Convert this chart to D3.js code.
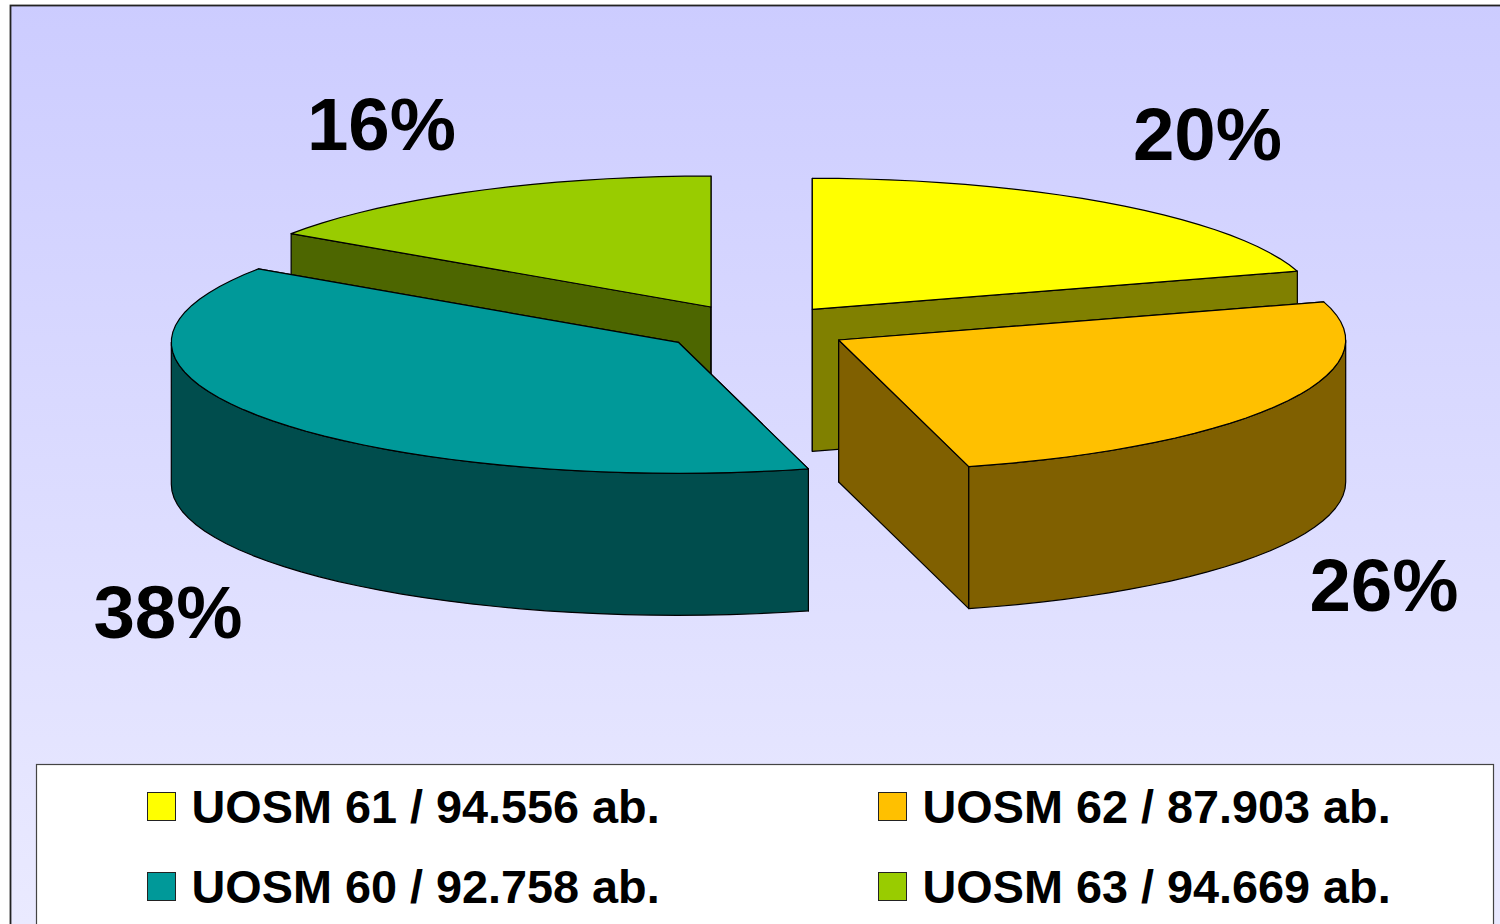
<!DOCTYPE html>
<html>
<head>
<meta charset="utf-8">
<script src="https://cdn.jsdelivr.net/npm/d3@7"></script>
<style>
	html, body { margin: 0; padding: 0; background: #fff; overflow: hidden; }
	svg { display: block; }
	text { font-family: "Liberation Sans", Arial, sans-serif; font-weight: bold; fill: #000; }
</style>
</head>
<body>
<svg></svg>
<script>
const names = ['UOSM 61', 'UOSM 62', 'UOSM 60', 'UOSM 63'];
const inhabitants = ['94.556', '87.903', '92.758', '94.669'];
const sliceShares = [20.3, 25.57, 38.6, 15.53];
const percentLabels = ['20%', '26%', '38%', '16%'];
const topColors = ['#ffff00', '#ffc000', '#009999', '#99cc00'];
const wallColors = ['#808000', '#806000', '#004d4d', '#4d6600'];

const width = 1500,
	height = 924,
	radiusX = 507,
	radiusY = 131,
	depth = 142,
	arcStep = Math.PI / 60;

// apex of each exploded slice, and where its percent label sits
const apex = [[812.3, 309.3], [838.7, 340], [678.3, 342.3], [711, 307]];
const labelPos = [[1207.5, 160], [1384, 611], [168, 638], [381.5, 149.5]];

const svg = d3.select('svg')
	.attr('width', width)
	.attr('height', height);

const defs = svg.append('defs');
const gradient = defs.append('linearGradient')
	.attr('id', 'bg')
	.attr('gradientUnits', 'userSpaceOnUse')
	.attr('x1', 0).attr('y1', 0)
	.attr('x2', 0).attr('y2', height);
gradient.append('stop').attr('offset', 0).attr('stop-color', '#ccccff');
gradient.append('stop').attr('offset', 1).attr('stop-color', '#eaeaff');

// chart frame runs off the right and bottom of the picture
svg.append('rect')
	.attr('x', 10.5)
	.attr('y', 5.5)
	.attr('width', width)
	.attr('height', height)
	.attr('fill', 'url(#bg)')
	.attr('stroke', '#222')
	.attr('stroke-width', 1.8);

const slices = d3.pie()
	.sort(null)
	.value(d => d)(sliceShares);

const xScale = d3.scaleLinear().domain([-1, 1]).range([-radiusX, radiusX]);
const yScale = d3.scaleLinear().domain([-1, 1]).range([radiusY, -radiusY]);

const rimPoint = a => [xScale(Math.sin(a)), yScale(Math.cos(a))];

const rimPoints = (a0, a1) => {
	const n = Math.max(1, Math.ceil((a1 - a0) / arcStep));
	return d3.range(n + 1).map(i => rimPoint(a0 + (a1 - a0) * i / n));
};

const line = d3.line();
const closed = pts => line(pts) + 'Z';
const drop = pts => pts.map(p => [p[0], p[1] + depth]);
const extrude = pts => closed(pts.concat(drop(pts).reverse()));

const pieG = svg.append('g');

const drawSlice = i => {
	const s = slices[i];
	const g = pieG.append('g')
		.attr('transform', `translate(${apex[i][0]}, ${apex[i][1]})`);

	const face = (d, fill) => g.append('path')
		.attr('d', d)
		.attr('fill', fill)
		.attr('stroke', '#000')
		.attr('stroke-width', 1.2)
		.attr('stroke-linejoin', 'round');

	// cut faces, drawn for every slice; later slices hide what should not show
	const center = [0, 0];
	face(extrude([center, rimPoint(s.startAngle)]), wallColors[i]);
	face(extrude([center, rimPoint(s.endAngle)]), wallColors[i]);

	// outer rim, only the part on the near side of the ellipse
	const r0 = Math.max(s.startAngle, Math.PI / 2),
		r1 = Math.min(s.endAngle, Math.PI * 1.5);
	if (r1 > r0) face(extrude(rimPoints(r0, r1)), wallColors[i]);

	face(closed([center].concat(rimPoints(s.startAngle, s.endAngle))), topColors[i]);
};

// back slices first so the front ones cover their walls
[3, 0, 2, 1].forEach(drawSlice);

svg.append('g')
	.selectAll('text')
	.data(percentLabels)
	.enter().append('text')
	.attr('x', (d, i) => labelPos[i][0])
	.attr('y', (d, i) => labelPos[i][1])
	.attr('text-anchor', 'middle')
	.attr('font-size', 74.5)
	.text(d => d);

// legend box also runs off the bottom
svg.append('rect')
	.attr('x', 36.5)
	.attr('y', 764.5)
	.attr('width', 1457)
	.attr('height', 200)
	.attr('fill', '#fff')
	.attr('stroke', '#444')
	.attr('stroke-width', 1.2);

const colScale = d3.scalePoint().domain([0, 1]).range([147, 878]);
const rowScale = d3.scalePoint().domain([0, 1]).range([792, 872]);

const legend = svg.append('g')
	.selectAll('g')
	.data(names)
	.enter().append('g')
	.attr('transform', (d, i) => `translate(${colScale(i % 2) + 0.5}, ${rowScale(Math.floor(i / 2)) + 0.5})`);

legend.append('rect')
	.attr('width', 28)
	.attr('height', 28)
	.attr('fill', (d, i) => topColors[i])
	.attr('stroke', '#222')
	.attr('stroke-width', 1);

legend.append('text')
	.attr('x', 44)
	.attr('y', 30)
	.attr('font-size', 46.8)
	.text((d, i) => `${d} / ${inhabitants[i]} ab.`);
</script>
</body>
</html>
